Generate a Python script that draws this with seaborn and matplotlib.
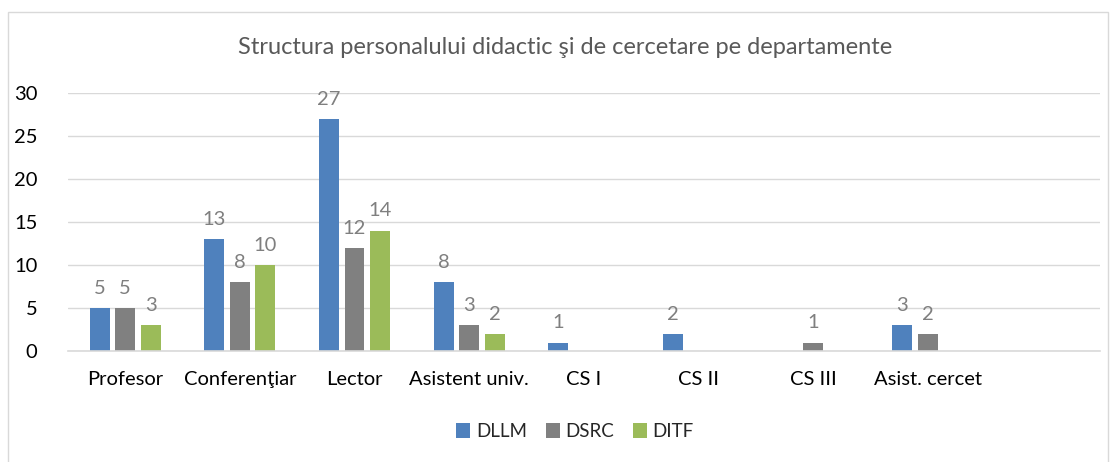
import matplotlib.pyplot as plt
import matplotlib.patches as mpatches
import pandas as pd
import numpy as np
import seaborn as sns

# categories (last slot is empty in the original chart)
categories = ["Profesor", "Conferenţiar", "Lector", "Asistent univ.", "CS I", "CS II", "CS III", "Asist. cercet", " "]
departments = ["DLLM", "DSRC", "DITF"]

dllm = [5, 13, 27, 8, 1, 2, np.nan, 3, np.nan]
dsrc = [5, 8, 12, 3, np.nan, np.nan, 1, 2, np.nan]
ditf = [3, 10, 14, 2, np.nan, np.nan, np.nan, np.nan, np.nan]

colors = ["#4F81BD", "#808080", "#9BBB59"]

rows = []
for dep, vals in zip(departments, [dllm, dsrc, ditf]):
    for cat, v in zip(categories, vals):
        rows.append({"Categorie": cat, "Departament": dep, "Numar": v})
df = pd.DataFrame(rows).dropna()

sns.set_style("white")
plt.rcParams["font.family"] = ["Lato", "DejaVu Sans"]

fig = plt.figure(figsize=(11.12, 4.62), dpi=100)
ax = fig.add_axes([0.061, 0.240, 0.928, 0.559])

sns.barplot(data=df, x="Categorie", y="Numar", hue="Departament", order=categories,
            hue_order=departments, palette=colors, width=0.667, gap=0.22,
            saturation=1, ax=ax, legend=True, errorbar=None, linewidth=0)

for cont in ax.containers:
    ax.bar_label(cont, fmt="%g", padding=8, color="#7f7f7f", fontsize=14.5)

ax.set_ylim(0, 30)
ax.set_xlim(-0.5, len(categories) - 0.5)
ax.set_yticks(range(0, 31, 5))
ax.yaxis.grid(True, color="#d9d9d9", linewidth=1)
ax.set_axisbelow(True)
for s in ["top", "right", "left"]:
    ax.spines[s].set_visible(False)
ax.spines["bottom"].set_color("#d9d9d9")
ax.spines["bottom"].set_linewidth(1.2)
ax.tick_params(axis="x", length=0, pad=14, labelsize=14.5, colors="black")
ax.tick_params(axis="y", length=0, pad=22, labelsize=14.5, colors="black")
ax.set_xlabel("")
ax.set_ylabel("")

ax.legend(loc="center", bbox_to_anchor=(0.517, 0.066), bbox_transform=fig.transFigure,
          ncol=3, frameon=False, fontsize=13.5, handlelength=0.75, handleheight=0.8,
          handletextpad=0.3, columnspacing=1.0)

fig.text(0.508, 0.898, "Structura personalului didactic şi de cercetare pe departamente",
         ha="center", va="center", fontsize=17, color="#595959")

# chart frame
fig.patches.append(mpatches.Rectangle((8 / 1112, -0.01), 1100 / 1112, 1 - 12 / 462 + 0.01,
                                      transform=fig.transFigure, fill=False,
                                      edgecolor="#d9d9d9", linewidth=1))

fig.savefig("out.png", dpi=100)
